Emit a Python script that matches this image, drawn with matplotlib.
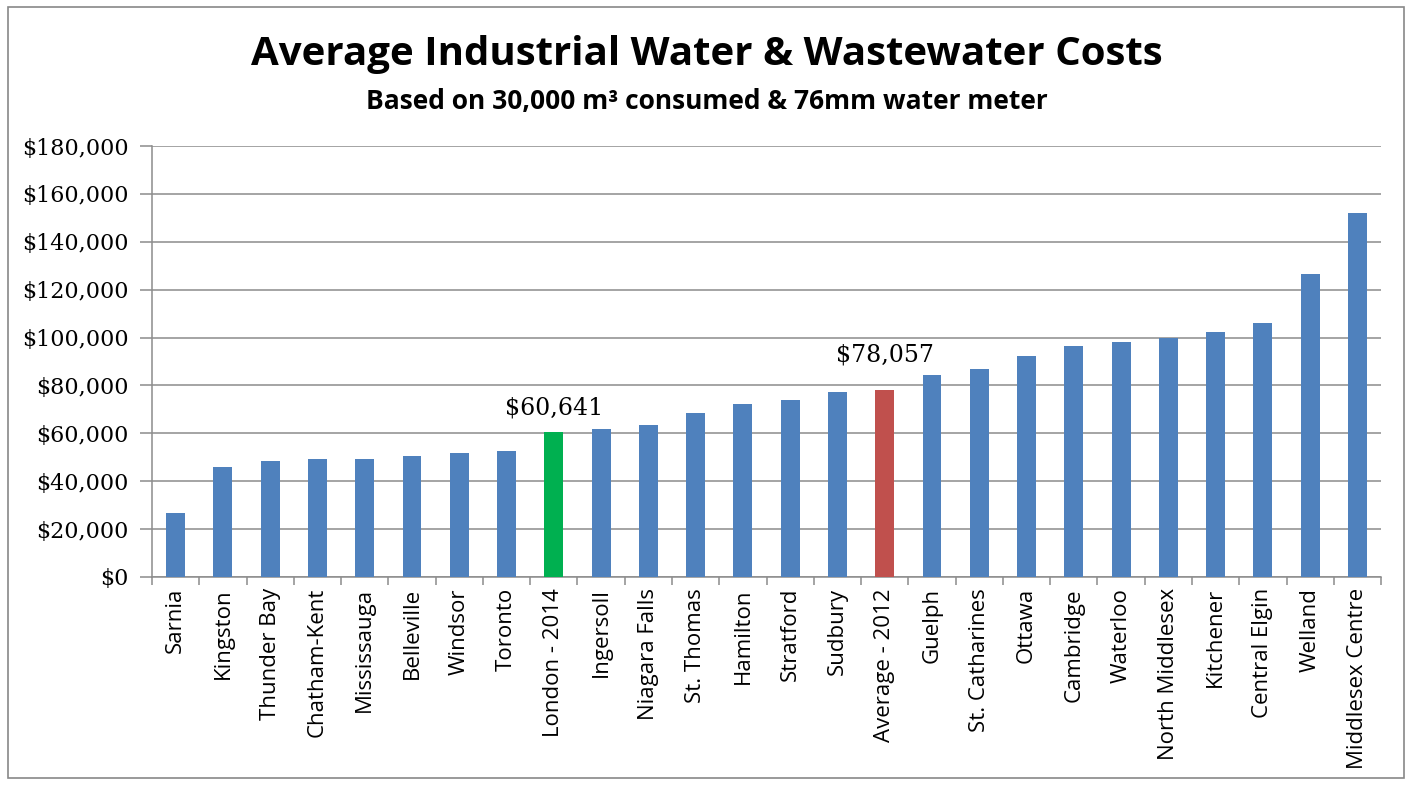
import matplotlib.pyplot as plt
from matplotlib.patches import Rectangle
from matplotlib.ticker import FuncFormatter, MultipleLocator
import numpy as np

cities = ["Sarnia", "Kingston", "Thunder Bay", "Chatham-Kent", "Mississauga",
          "Belleville", "Windsor", "Toronto", "London - 2014", "Ingersoll",
          "Niagara Falls", "St. Thomas", "Hamilton", "Stratford", "Sudbury",
          "Average - 2012", "Guelph", "St. Catharines", "Ottawa", "Cambridge",
          "Waterloo", "North Middlesex", "Kitchener", "Central Elgin",
          "Welland", "Middlesex Centre"]
costs = [26700, 46100, 48600, 49200, 49400, 50500, 51600, 52500, 60641, 61700,
         63400, 68400, 72100, 74100, 77100, 78057, 84500, 86900, 92300, 96500,
         98000, 99700, 102500, 106200, 126600, 152200]
labelled = ["London - 2014", "Average - 2012"]

colors = []
for c in cities:
    if c == "London - 2014":
        colors.append("#00B050")
    elif c == "Average - 2012":
        colors.append("#C0504D")
    else:
        colors.append("#4F81BD")

fig = plt.figure(figsize=(14.14, 7.85), dpi=100)
fig.patches.append(Rectangle((0.006, 0.009), 0.987, 0.982, transform=fig.transFigure,
                             fill=False, edgecolor="#888888", linewidth=1.2))

ax = fig.add_axes([0.1075, 0.265, 0.8692, 0.549])
x = np.arange(len(cities))
ax.bar(x, costs, width=0.4, color=colors, zorder=3)

ax.set_xlim(-0.5, len(cities) - 0.5)
ax.set_ylim(0, 180000)
ax.yaxis.set_major_locator(MultipleLocator(20000))
ax.yaxis.set_major_formatter(FuncFormatter(lambda v, p: "${:,.0f}".format(v)))
ax.grid(axis="y", color="#8c8c8c", linewidth=1.1, zorder=0)

for s in ["top", "right"]:
    ax.spines[s].set_visible(False)
for s in ["left", "bottom"]:
    ax.spines[s].set_color("#8c8c8c")
    ax.spines[s].set_linewidth(1.1)

ax.set_xticks(x)
ax.set_xticklabels(cities, rotation=90, fontsize=16, family="Open Sans")
ax.tick_params(axis="x", which="major", length=0, pad=8)
ax.set_xticks(np.arange(-0.5, len(cities)), minor=True)
ax.tick_params(axis="x", which="minor", length=6, color="#8c8c8c", width=1.1)
ax.tick_params(axis="y", length=9, color="#8c8c8c", width=1.1, pad=8)
for t in ax.get_yticklabels():
    t.set_family("DejaVu Serif")
    t.set_fontsize(16)

# value labels over the highlighted bars
for i, c in enumerate(cities):
    if c in labelled:
        off = 9 if c == "London - 2014" else 17
        ax.annotate("${:,.0f}".format(costs[i]), (x[i], costs[i]),
                    xytext=(0, off), textcoords="offset points",
                    ha="center", va="bottom", fontsize=17,
                    family="DejaVu Serif")

fig.text(0.5, 0.930, "Average Industrial Water & Wastewater Costs", ha="center",
         va="center", fontsize=29, fontweight="bold", family="Open Sans")
fig.text(0.5, 0.871, "Based on 30,000 m³ consumed & 76mm water meter", ha="center",
         va="center", fontsize=19, fontweight="bold", family="Open Sans")

fig.savefig("out.png", dpi=100)
